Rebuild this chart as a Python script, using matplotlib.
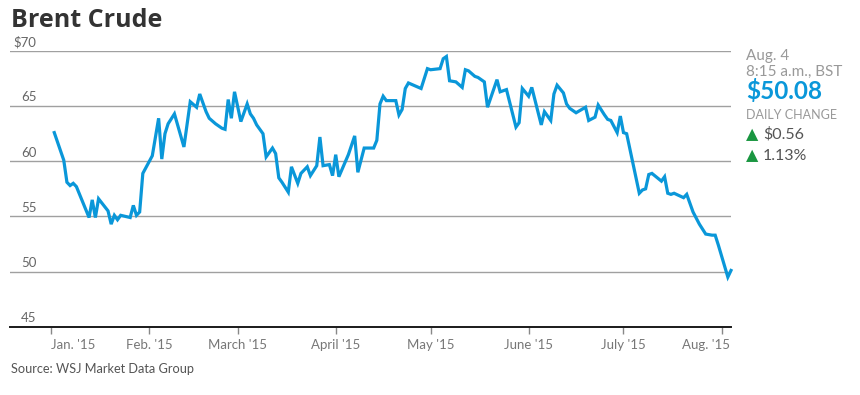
import pandas as pd
import matplotlib.pyplot as plt
import matplotlib.transforms as mtransforms

# Brent crude daily close (vertices of the line)
DATES = [
    "2015-01-02", "2015-01-05", "2015-01-06", "2015-01-07", "2015-01-08", "2015-01-09",
    "2015-01-13", "2015-01-14", "2015-01-15", "2015-01-16", "2015-01-19", "2015-01-20",
    "2015-01-21", "2015-01-22", "2015-01-23", "2015-01-26", "2015-01-27", "2015-01-28",
    "2015-01-29", "2015-01-30",
    "2015-02-02", "2015-02-04", "2015-02-05", "2015-02-06", "2015-02-07", "2015-02-09",
    "2015-02-12", "2015-02-14", "2015-02-16", "2015-02-17", "2015-02-19", "2015-02-20",
    "2015-02-22", "2015-02-24", "2015-02-25", "2015-02-26", "2015-02-27", "2015-02-28",
    "2015-03-02", "2015-03-04", "2015-03-05", "2015-03-06", "2015-03-07", "2015-03-09",
    "2015-03-10", "2015-03-12", "2015-03-13", "2015-03-14", "2015-03-15", "2015-03-17",
    "2015-03-18", "2015-03-20", "2015-03-21", "2015-03-22", "2015-03-23", "2015-03-24",
    "2015-03-26", "2015-03-27", "2015-03-28", "2015-03-30", "2015-03-31",
    "2015-04-01", "2015-04-02", "2015-04-05", "2015-04-07", "2015-04-08", "2015-04-10",
    "2015-04-13", "2015-04-14", "2015-04-15", "2015-04-16", "2015-04-17", "2015-04-20",
    "2015-04-21", "2015-04-22", "2015-04-23", "2015-04-24", "2015-04-28", "2015-04-30",
    "2015-05-01", "2015-05-04", "2015-05-05", "2015-05-06", "2015-05-07", "2015-05-09",
    "2015-05-11", "2015-05-12", "2015-05-13", "2015-05-15", "2015-05-16", "2015-05-18",
    "2015-05-19", "2015-05-22", "2015-05-23", "2015-05-25", "2015-05-28", "2015-05-29",
    "2015-05-30",
    "2015-06-01", "2015-06-02", "2015-06-05", "2015-06-06", "2015-06-08", "2015-06-09",
    "2015-06-10", "2015-06-12", "2015-06-13", "2015-06-14", "2015-06-16", "2015-06-19",
    "2015-06-20", "2015-06-22", "2015-06-23", "2015-06-25", "2015-06-26", "2015-06-27",
    "2015-06-29", "2015-06-30",
    "2015-07-01", "2015-07-02", "2015-07-06", "2015-07-07", "2015-07-08", "2015-07-09",
    "2015-07-10", "2015-07-13", "2015-07-14", "2015-07-15", "2015-07-16", "2015-07-17",
    "2015-07-20", "2015-07-21", "2015-07-23", "2015-07-25", "2015-07-27", "2015-07-29",
    "2015-07-30", "2015-07-31",
    "2015-08-03", "2015-08-04",
]
PRICES = [
    62.6, 60.1, 58.1, 57.8, 58.0, 57.7,
    54.9, 56.5, 54.9, 56.6, 55.5, 54.3,
    55.1, 54.7, 55.1, 54.9, 56.0, 55.1,
    55.4, 58.9,
    60.5, 63.9, 60.2, 62.5, 63.4, 64.3,
    61.3, 65.4, 64.9, 66.1, 64.5, 63.9,
    63.4, 63.0, 62.9, 65.6, 63.9, 66.3,
    63.6, 65.2, 64.3, 63.9, 63.3, 62.5,
    60.4, 61.2, 60.7, 58.5, 58.1, 57.2,
    59.5, 58.0, 58.9, 59.2, 59.5, 58.7,
    59.6, 62.2, 59.6, 59.7, 58.7,
    60.6, 58.6, 60.6, 62.3, 59.0, 61.2,
    61.2, 61.9, 65.2, 65.9, 65.5, 65.5,
    64.2, 64.7, 66.6, 67.1, 66.6, 68.4,
    68.3, 68.4, 69.3, 69.5, 67.3, 67.2,
    66.7, 68.3, 68.2, 67.7, 67.6, 67.2,
    64.9, 67.4, 66.3, 66.5, 63.1, 63.5,
    66.6,
    65.9, 66.7, 63.3, 64.5, 63.7, 66.1,
    66.9, 66.2, 65.2, 64.8, 64.4, 64.9,
    63.7, 64.0, 65.1, 64.2, 63.8, 63.7,
    62.6, 64.1,
    62.6, 62.5, 57.1, 57.4, 57.5, 58.8,
    58.9, 58.2, 58.6, 57.1, 57.0, 57.1,
    56.7, 57.0, 55.4, 54.3, 53.4, 53.3,
    53.3, 52.4,
    49.5, 50.1,
]

Y_TICKS = [45, 50, 55, 60, 65, 70]
Y_LABELS = ["45", "50", "55", "60", "65", "$70"]
MONTHS = ["2015-01-01", "2015-02-01", "2015-03-01", "2015-04-01",
          "2015-05-01", "2015-06-01", "2015-07-01", "2015-08-01"]
MONTH_LABELS = ["Jan. '15", "Feb. '15", "March '15", "April '15",
                "May '15", "June '15", "July '15", "Aug. '15"]

LINE = "#0a97d9"
GRID = "#a0a0a0"
UP = "#1a9641"

plt.rcParams["font.family"] = ["Lato", "DejaVu Sans"]

dates = pd.to_datetime(DATES)
months = pd.to_datetime(MONTHS)

fig = plt.figure(figsize=(8.6, 3.95), dpi=100)
W, H = 860, 395
ax = fig.add_axes([10 / W, (H - 326.7) / H, 721 / W, (326.7 - 51) / H])

ax.plot(dates, PRICES, color=LINE, lw=2.3, solid_joinstyle="miter", clip_on=False, zorder=3)

ax.set_xlim(pd.Timestamp("2014-12-19"), pd.Timestamp("2015-08-04"))
ax.set_ylim(45, 70)

# gridlines with the value sitting just above each one
for v in Y_TICKS[1:]:
    ax.axhline(v, color=GRID, lw=1.0, zorder=1)
for v, lab in zip(Y_TICKS, Y_LABELS):
    ax.annotate(lab, xy=(0, v), xycoords=("axes fraction", "data"),
                xytext=(19, 2), textcoords="offset points",
                ha="right", va="bottom", fontsize=9.5, color="#666666")

for s in ["top", "right", "left"]:
    ax.spines[s].set_visible(False)
ax.spines["bottom"].set_color("#1a1a1a")
ax.spines["bottom"].set_linewidth(1.4)
ax.set_yticks([])

ax.set_xticks(months)
ax.set_xticklabels(MONTH_LABELS, fontsize=9.5, color="#777777")
ax.tick_params(axis="x", direction="out", length=5, width=1, color="#888888", pad=4)
labels = ax.get_xticklabels()
labels[0].set_ha("left")
labels[-1].set_ha("right")
labels[-1].set_transform(labels[-1].get_transform() +
                         mtransforms.ScaledTranslation(8 / 100, 0, fig.dpi_scale_trans))

fig.text(11 / W, 1 - 27 / H, "Brent Crude", fontsize=18, fontweight="bold",
         color="#333333", family=["Open Sans", "DejaVu Sans"], va="baseline")
fig.text(11 / W, 1 - 369 / H, "Source: WSJ Market Data Group", fontsize=9.2,
         color="#555555", va="center")

# right-hand quote panel
x0 = 746 / W
fig.text(x0, 1 - 60 / H, "Aug. 4", fontsize=11, color="#999999", va="baseline")
fig.text(x0, 1 - 76 / H, "8:15 a.m., BST", fontsize=11, color="#999999", va="baseline")
fig.text(x0, 1 - 99 / H, "$50.08", fontsize=17.5, fontweight="bold", color=LINE, va="baseline")
fig.text(x0, 1 - 119 / H, "DAILY CHANGE", fontsize=9, color="#999999", va="baseline")
for y, val in [(139, "$0.56"), (160, "1.13%")]:
    fig.text(x0, 1 - y / H, "\u25b2", fontsize=11.5, color=UP, va="baseline",
             family=["DejaVu Sans"])
    fig.text(x0 + 17 / W, 1 - y / H, val, fontsize=11.5, color="#555555", va="baseline")

fig.savefig("out.png", dpi=100)
